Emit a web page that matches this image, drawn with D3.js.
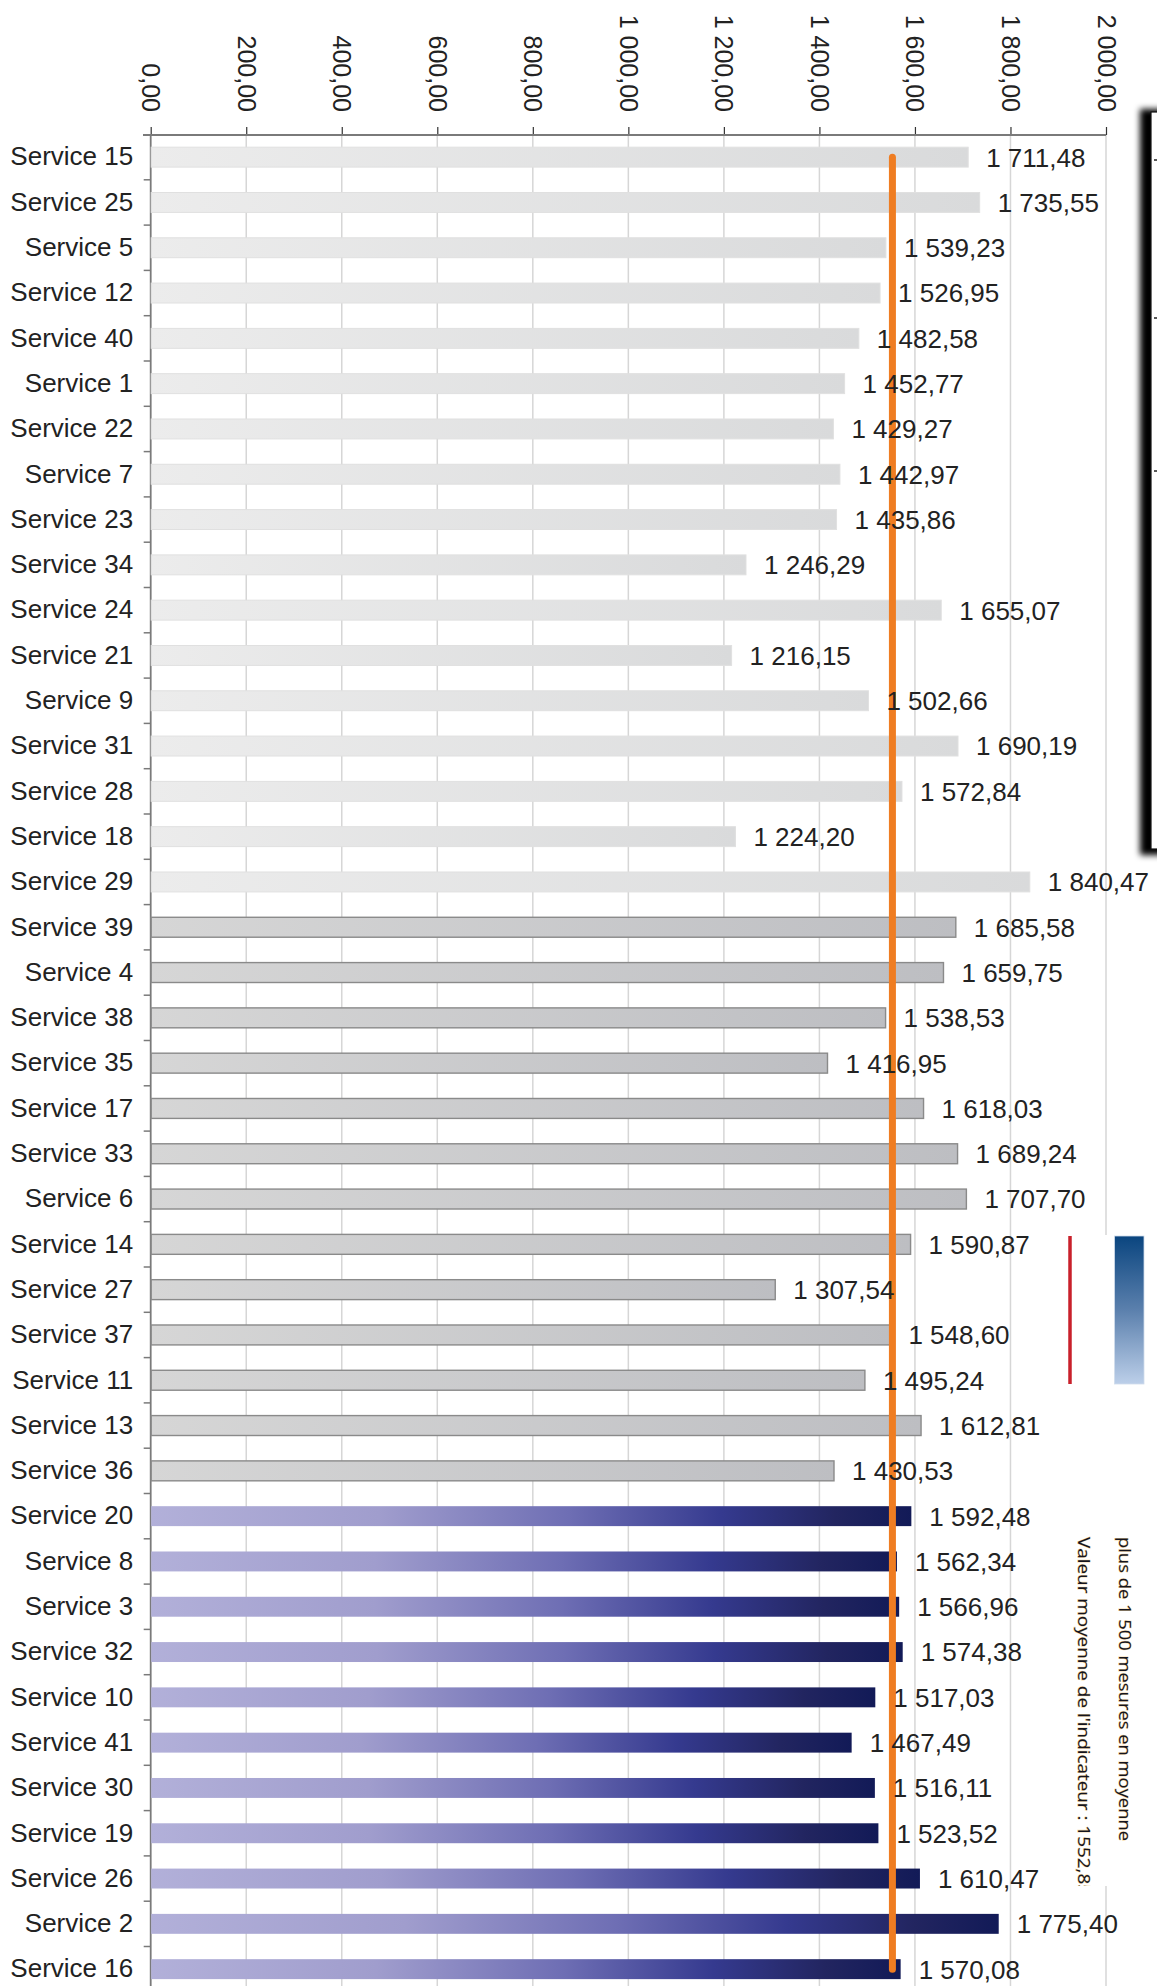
<!DOCTYPE html>
<html>
<head>
<meta charset="utf-8">
<script src="https://cdn.jsdelivr.net/npm/d3@7"></script>
<style>
  html, body { margin: 0; padding: 0; background: #fff; }
  svg { display: block; }
</style>
</head>
<body>
<script>
// ---------- DATA ----------
const categories = [
  "Service 15","Service 25","Service 5","Service 12","Service 40","Service 1","Service 22",
  "Service 7","Service 23","Service 34","Service 24","Service 21","Service 9","Service 31",
  "Service 28","Service 18","Service 29",
  "Service 39","Service 4","Service 38","Service 35","Service 17","Service 33","Service 6",
  "Service 14","Service 27","Service 37","Service 11","Service 13","Service 36",
  "Service 20","Service 8","Service 3","Service 32","Service 10","Service 41","Service 30",
  "Service 19","Service 26","Service 2","Service 16"
];
const values = [
  1711.48,1735.55,1539.23,1526.95,1482.58,1452.77,1429.27,
  1442.97,1435.86,1246.29,1655.07,1216.15,1502.66,1690.19,
  1572.84,1224.20,1840.47,
  1685.58,1659.75,1538.53,1416.95,1618.03,1689.24,1707.70,
  1590.87,1307.54,1548.60,1495.24,1612.81,1430.53,
  1592.48,1562.34,1566.96,1574.38,1517.03,1467.49,1516.11,
  1523.52,1610.47,1775.40,1570.08
];
const groups = [
  "A","A","A","A","A","A","A","A","A","A","A","A","A","A","A","A","A",
  "B","B","B","B","B","B","B","B","B","B","B","B","B",
  "C","C","C","C","C","C","C","C","C","C","C"
];
const tickValues = [0,200,400,600,800,1000,1200,1400,1600,1800,2000];
const meanValue = 1552.85;
const legendTexts = ["plus de 1 500 mesures en moyenne", "Valeur moyenne de l'indicateur : 1552,85"];

// ---------- SETUP ----------
const W = 1157, H = 1986;
const fr = d3.formatLocale({decimal: ",", thousands: "\u00a0", grouping: [3], currency: ["", " €"]});
const fmt = fr.format(",.2f");

const svg = d3.select("body").append("svg")
  .attr("width", W).attr("height", H)
  .attr("font-family", "'Liberation Sans', Arial, sans-serif");

const x = d3.scaleLinear().domain([0, 2000]).range([150.7, 1106]);
const y = d3.scaleBand().domain(categories).range([134.5, 134.5 + 41 * 45.3])
  .paddingInner(0.56).paddingOuter(0.28);
const bw = y.bandwidth();
const axisY = 135;

const defs = svg.append("defs");
function hGrad(id, stops) {
  const g = defs.append("linearGradient").attr("id", id)
    .attr("x1", "0").attr("y1", "0").attr("x2", "1").attr("y2", "0");
  stops.forEach(s => g.append("stop").attr("offset", s[0]).attr("stop-color", s[1]));
}
hGrad("gA", [[0, "#ececec"], [1, "#d9dadb"]]);
hGrad("gB", [[0, "#d6d6d6"], [1, "#bdbec2"]]);
hGrad("gC", [[0, "#b2b0d9"], [0.3, "#a09dcd"], [0.55, "#6e6eb4"], [0.75, "#353a8f"], [0.9, "#222560"], [1, "#121a57"]]);
const vg = defs.append("linearGradient").attr("id", "gLeg")
  .attr("x1", "0").attr("y1", "0").attr("x2", "0").attr("y2", "1");
vg.append("stop").attr("offset", 0).attr("stop-color", "#0a457f");
vg.append("stop").attr("offset", 0.5).attr("stop-color", "#5b80ad");
vg.append("stop").attr("offset", 1).attr("stop-color", "#bccfe9");
const blur = defs.append("filter").attr("id", "blur").attr("x", "-50%").attr("y", "-10%").attr("width", "200%").attr("height", "120%");
blur.append("feGaussianBlur").attr("stdDeviation", 3);
defs.append("clipPath").attr("id", "legClip").append("rect")
  .attr("x", 1040).attr("y", 1230).attr("width", 117).attr("height", 656);

// ---------- GRIDLINES ----------
svg.append("g").selectAll("line").data(tickValues.filter(d => d > 0)).join("line")
  .attr("x1", d => x(d)).attr("x2", d => x(d))
  .attr("y1", axisY).attr("y2", H)
  .attr("stroke", "#d6d6d6").attr("stroke-width", 1.5);

// ---------- TOP AXIS ----------
const xAxis = d3.axisTop(x).tickValues(tickValues).tickSize(8).tickSizeOuter(0).tickFormat(fmt);
const gx = svg.append("g").attr("transform", `translate(0,${axisY})`).call(xAxis);
gx.select(".domain").remove();
gx.selectAll(".tick line").attr("stroke", "#333").attr("stroke-width", 1.2);
gx.selectAll(".tick text")
  .attr("font-size", 25).attr("fill", "#222")
  .attr("text-anchor", "end")
  .attr("x", 0).attr("y", 0).attr("dy", "0.36em")
  .attr("transform", "translate(0,-23) rotate(90)");
svg.append("line").attr("x1", 143).attr("x2", x(2000))
  .attr("y1", axisY).attr("y2", axisY).attr("stroke", "#7a7a7a").attr("stroke-width", 1.8);

// ---------- LEFT AXIS ----------
const yAxis = d3.axisLeft(y).tickSize(0).tickPadding(17.5);
const gy = svg.append("g").attr("transform", `translate(${x(0)},0)`).call(yAxis);
gy.select(".domain").remove();
gy.selectAll(".tick text").attr("font-size", 26).attr("fill", "#222");
svg.append("line").attr("x1", x(0)).attr("x2", x(0)).attr("y1", axisY).attr("y2", H)
  .attr("stroke", "#7a7a7a").attr("stroke-width", 1.8);
svg.append("g").selectAll("line").data(d3.range(1, categories.length + 1)).join("line")
  .attr("x1", x(0) - 7).attr("x2", x(0))
  .attr("y1", k => y.range()[0] + k * y.step()).attr("y2", k => y.range()[0] + k * y.step())
  .attr("stroke", "#7a7a7a").attr("stroke-width", 1.5);

// ---------- BARS ----------
const rows = categories.map((c, i) => ({c, v: values[i], g: groups[i]}));
svg.append("g").selectAll("rect").data(rows).join("rect")
  .attr("x", x(0) + 0.5)
  .attr("y", d => y(d.c))
  .attr("width", d => x(d.v) - x(0) - 0.5)
  .attr("height", bw)
  .attr("fill", d => `url(#g${d.g})`)
  .attr("stroke", d => d.g === "B" ? "#8a8a8a" : (d.g === "A" ? "#e0e0e0" : "none"))
  .attr("stroke-width", d => d.g === "B" ? 1.4 : 1);

// ---------- MEAN LINE ----------
svg.append("line")
  .attr("x1", x(meanValue)).attr("x2", x(meanValue))
  .attr("y1", y(categories[0]) + bw / 2)
  .attr("y2", y(categories[categories.length - 1]) + bw / 2)
  .attr("stroke", "#ef7d22").attr("stroke-width", 7).attr("stroke-linecap", "round");

// ---------- VALUE LABELS ----------
svg.append("g").selectAll("text").data(rows).join("text")
  .attr("x", d => x(d.v) + 18)
  .attr("y", d => y(d.c) + bw / 2)
  .attr("dy", "0.36em")
  .attr("font-size", 26).attr("fill", "#222")
  .text(d => fmt(d.v));

// ---------- RIGHT-SIDE FRAME (top) ----------
svg.append("rect").attr("x", 1140).attr("y", 109).attr("width", 40).attr("height", 746)
  .attr("fill", "#000").attr("filter", "url(#blur)");
svg.append("rect").attr("x", 1151).attr("y", 112).attr("width", 30).attr("height", 737)
  .attr("fill", "#fff").attr("stroke", "#111").attr("stroke-width", 1.2);
svg.append("g").selectAll("line").data([160, 318, 471]).join("line")
  .attr("x1", 1154).attr("x2", 1158).attr("y1", d => d).attr("y2", d => d)
  .attr("stroke", "#222").attr("stroke-width", 1.5);

// ---------- LEGEND (bottom right) ----------
svg.append("rect").attr("x", 1062).attr("y", 1235).attr("width", 95).attr("height", 651).attr("fill", "#fff");
svg.append("line").attr("x1", 1070).attr("x2", 1070).attr("y1", 1236).attr("y2", 1384)
  .attr("stroke", "#c9202b").attr("stroke-width", 3.5);
svg.append("rect").attr("x", 1114.5).attr("y", 1236).attr("width", 29.5).attr("height", 148)
  .attr("fill", "url(#gLeg)").attr("stroke", "#d0dcec").attr("stroke-width", 0.8);

const leg = svg.append("g").attr("clip-path", "url(#legClip)");
const legPos = [{x: 1124.5, len: 304}, {x: 1083.5, len: 358}];
leg.selectAll("text").data(legendTexts).join("text")
  .attr("transform", (d, i) => `translate(${legPos[i].x},1537) rotate(90)`)
  .attr("dy", "0.35em")
  .attr("font-family", "'Liberation Sans Narrow', 'Open Sans', sans-serif")
  .attr("font-size", 17)
  .attr("textLength", (d, i) => legPos[i].len)
  .attr("lengthAdjust", "spacingAndGlyphs")
  .attr("fill", "#14141e")
  .attr("stroke", "#f2c46a").attr("stroke-width", 1).attr("stroke-opacity", 0.6)
  .attr("paint-order", "stroke")
  .text(d => d);
</script>
</body>
</html>
